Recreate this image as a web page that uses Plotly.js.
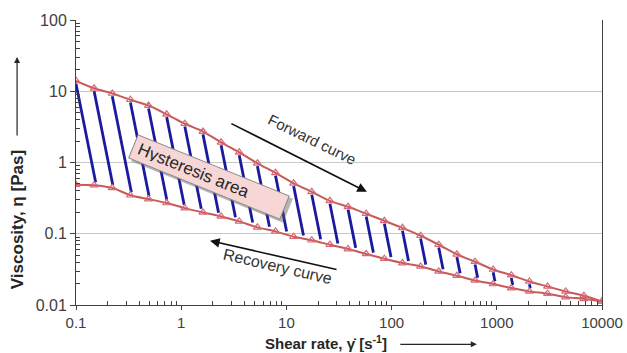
<!DOCTYPE html>
<html>
<head>
<meta charset="utf-8">
<script src="https://cdn.plot.ly/plotly-3.0.1.min.js"></script>
<style>html,body{margin:0;padding:0;background:#fff;}#chart{width:627px;height:353px;}</style>
</head>
<body>
<div id="chart"></div>
<script>
// Shear rate values (s^-1), log-spaced measurement points
const shearRate = [0.1, 0.1487, 0.2212, 0.329, 0.4894, 0.7279, 1.083, 1.61, 2.395, 3.562,
  5.298, 7.88, 11.72, 17.43, 25.93, 38.57, 57.36, 85.32, 126.9, 188.7,
  280.7, 417.5, 620.9, 923.5, 1374, 2043, 3039, 4520, 6723, 10000];
// Forward curve viscosity (Pa s)
const forwardVisc = [14.0, 11.0, 9.3, 7.6, 6.3, 4.75, 3.5, 2.72, 1.92, 1.39,
  0.975, 0.717, 0.511, 0.388, 0.29, 0.239, 0.191, 0.152, 0.121, 0.0938,
  0.0701, 0.0515, 0.0405, 0.0315, 0.0262, 0.0214, 0.0182, 0.0155, 0.0135, 0.0112];
// Recovery curve viscosity (Pa s)
const recoveryVisc = [0.487, 0.48, 0.44, 0.347, 0.307, 0.27, 0.229, 0.199, 0.175, 0.149,
  0.123, 0.108, 0.0908, 0.0811, 0.0701, 0.061, 0.0521, 0.0446, 0.0388, 0.0348,
  0.0296, 0.0258, 0.0221, 0.0197, 0.0173, 0.0155, 0.0144, 0.0129, 0.0122, 0.0112];
// Tick labels
const xTickVals = [0.1, 1, 10, 100, 1000, 10000];
const xTickText = ['0.1', '1', '10', '100', '1000', '10000'];
const yTickVals = [0.01, 0.1, 1, 10, 100];
const yTickText = ['0.01', '0.1', '1', '10', '100'];
// Texts
const xTitle = '<b>Shear rate, γ̇ [s<sup>-1</sup>]</b>';
const yTitle = '<b>Viscosity, η [Pas]</b>';
const forwardLabel = 'Forward curve';
const recoveryLabel = 'Recovery curve';
const areaLabel = 'Hysteresis area';

const L10 = Math.log10;
function minorVals(decFrom, decTo) {
  const out = [];
  for (let d = decFrom; d < decTo; d++) {
    for (let m = 2; m <= 9; m++) out.push(m * Math.pow(10, d));
  }
  return out;
}
function interpLog(xs, ys, xl) {
  const lx = xs.map(L10), ly = ys.map(L10);
  if (xl <= lx[0]) return ly[0];
  for (let j = 0; j < lx.length - 1; j++) {
    if (xl <= lx[j + 1]) {
      const t = (xl - lx[j]) / (lx[j + 1] - lx[j]);
      return ly[j] + t * (ly[j + 1] - ly[j]);
    }
  }
  return ly[ly.length - 1];
}

// Hatching: slanted strokes from the forward curve down to the recovery curve
const hx = [], hy = [];
const slant = 0.135, insetTop = 0.04, insetBot = 0.045;
for (let i = 0; i < shearRate.length - 1; i++) {
  const xl = L10(shearRate[i]);
  const ys = L10(forwardVisc[i]) - insetTop;
  let ye = L10(recoveryVisc[i]) + insetBot;
  let xe = xl;
  for (let k = 0; k < 4; k++) {
    xe = xl + slant * (ys - ye);
    ye = interpLog(shearRate, recoveryVisc, xe) + insetBot;
  }
  if (ys - ye < 0.02) continue;
  hx.push(shearRate[i], Math.pow(10, xe), null);
  hy.push(Math.pow(10, ys), Math.pow(10, ye), null);
}

const lineColor = '#C65B58';
const markerColor = '#D86878';
const traces = [
  { x: hx, y: hy, mode: 'lines', line: { color: '#1A1A9E', width: 2.8 }, hoverinfo: 'skip', showlegend: false },
  { x: shearRate, y: forwardVisc, mode: 'lines+markers', name: 'Forward',
    line: { color: lineColor, width: 2, shape: 'spline', smoothing: 0.8 },
    marker: { symbol: 'triangle-up-open', size: 7, color: markerColor, line: { width: 1.2, color: markerColor } } },
  { x: shearRate, y: recoveryVisc, mode: 'lines+markers', name: 'Recovery',
    line: { color: lineColor, width: 2, shape: 'spline', smoothing: 0.8 },
    marker: { symbol: 'triangle-up-open', size: 7, color: markerColor, line: { width: 1.2, color: markerColor } } }
];

const fam = 'Liberation Sans, Arial, sans-serif';
const tickFont = { family: fam, size: 15, color: '#404040' };
const axisColor = '#404040';
const layout = {
  width: 627, height: 353,
  margin: { l: 76, r: 25, t: 20, b: 48 },
  paper_bgcolor: '#fff', plot_bgcolor: '#fff',
  showlegend: false,
  xaxis: {
    type: 'log', range: [-1, 4], tickmode: 'array', tickvals: xTickVals, ticktext: xTickText,
    ticks: 'outside', ticklen: 4, tickcolor: axisColor, showline: true, linecolor: axisColor, linewidth: 1,
    showgrid: false, zeroline: false, tickfont: tickFont,
    minor: { tickmode: 'array', tickvals: minorVals(-1, 4), ticks: 'inside', ticklen: 4, tickcolor: axisColor, showgrid: false }
  },
  yaxis: {
    type: 'log', range: [-2, 2], tickmode: 'array', tickvals: yTickVals, ticktext: yTickText,
    ticks: 'outside', ticklen: 5, tickcolor: axisColor, showline: true, linecolor: axisColor, linewidth: 1,
    mirror: true, showgrid: true, gridcolor: '#C8C8C8', gridwidth: 1, zeroline: false, tickfont: { family: fam, size: 16, color: '#404040' },
    minor: { tickmode: 'array', tickvals: minorVals(-2, 2), ticks: 'inside', ticklen: 4, tickcolor: axisColor, showgrid: false }
  },
  annotations: [
    // shadow of the hysteresis label box
    { xref: 'paper', yref: 'paper', x: 0.2529, y: 0.4497, xanchor: 'center', yanchor: 'middle',
      text: areaLabel, showarrow: false, textangle: 22, width: 152, height: 14, align: 'left',
      font: { family: fam, size: 17, color: 'rgba(0,0,0,0)' },
      bgcolor: 'rgba(90,90,90,0.45)', borderwidth: 0, borderpad: 6, xshift: 3, yshift: -3 },
    { xref: 'paper', yref: 'paper', x: 0.2529, y: 0.4497, xanchor: 'center', yanchor: 'middle',
      text: areaLabel, showarrow: false, textangle: 22, width: 152, height: 14, align: 'left',
      font: { family: fam, size: 17, color: '#262626' },
      bgcolor: '#F7D6D6', bordercolor: '#8A8A8A', borderwidth: 1, borderpad: 5 },
    { xref: 'paper', yref: 'paper', x: 0.449, y: 0.579, xanchor: 'center', yanchor: 'middle',
      text: forwardLabel, showarrow: false, textangle: 26,
      font: { family: fam, size: 15, color: '#333333' } },
    { xref: 'paper', yref: 'paper', x: 0.553, y: 0.397, text: '', showarrow: true,
      ax: -137, ay: -69, arrowhead: 2, arrowsize: 1.2, arrowwidth: 1.6, arrowcolor: '#111' },
    { xref: 'paper', yref: 'paper', x: 0.384, y: 0.135, xanchor: 'center', yanchor: 'middle',
      text: recoveryLabel, showarrow: false, textangle: 13,
      font: { family: fam, size: 16, color: '#333333' } },
    { xref: 'paper', yref: 'paper', x: 0.2548, y: 0.2254, text: '', showarrow: true,
      ax: 128, ay: 29, arrowhead: 2, arrowsize: 1.2, arrowwidth: 1.6, arrowcolor: '#111' },
    // axis titles
    { xref: 'paper', yref: 'paper', x: 0.475, y: -0.131, xanchor: 'center', yanchor: 'middle',
      text: xTitle, showarrow: false,
      font: { family: fam, size: 15, color: '#262626' } },
    { xref: 'paper', yref: 'paper', x: 0.762, y: -0.138, text: '', showarrow: true,
      ax: -78, ay: 0, arrowhead: 2, arrowsize: 1, arrowwidth: 1.2, arrowcolor: '#262626' },
    { xref: 'paper', yref: 'paper', x: -0.112, y: 0.298, xanchor: 'center', yanchor: 'middle',
      text: yTitle, showarrow: false, textangle: -90,
      font: { family: fam, size: 17, color: '#262626' } },
    { xref: 'paper', yref: 'paper', x: -0.112, y: 0.870, text: '', showarrow: true,
      ax: 0, ay: 80, arrowhead: 2, arrowsize: 1, arrowwidth: 1.2, arrowcolor: '#262626' }
  ]
};
Plotly.newPlot('chart', traces, layout, { staticPlot: true, displayModeBar: false });
</script>
</body>
</html>
